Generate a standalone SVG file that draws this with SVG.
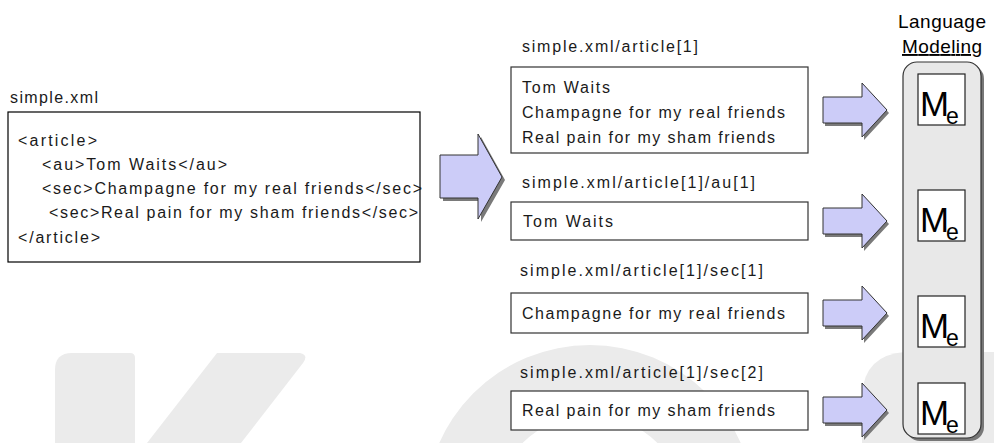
<svg xmlns="http://www.w3.org/2000/svg" width="994" height="443" viewBox="0 0 994 443">
<style>
.t{font-family:"Liberation Sans",Arial,sans-serif;font-size:16px;fill:#1a1a1a}
.box{fill:#ffffff;stroke:#333333;stroke-width:1.2}
.arr{fill:#ccccf8;stroke:#333333;stroke-width:1}
.sh{fill:#7a7a7a}
.wm{fill:#ebebeb}
.m{font-family:"Liberation Sans",Arial,sans-serif;font-size:35px;fill:#000}
.e{font-family:"Liberation Sans",Arial,sans-serif;font-size:23px;fill:#000}
.lm{font-family:"Liberation Sans",Arial,sans-serif;font-size:19px;fill:#000}
</style>
<defs>
<path id="sa" d="M823,-13 L862,-13 L862,-27 L887,0 L862,27 L862,13 L823,13 Z"/>
<g id="me">
<rect x="918" y="0" width="47" height="51" fill="#fff" stroke="#222" stroke-width="1.2"/>
<text class="m" x="920" y="42" textLength="29" lengthAdjust="spacingAndGlyphs">M</text>
<text class="e" x="946" y="50">e</text>
</g>
</defs>
<rect width="994" height="443" fill="#ffffff"/>
<g id="watermark">
<path class="wm" d="M55,443 L55,370 Q55,353 72,353 L130,353 Q135,353 135,358 L135,443 Z"/>
<path class="wm" d="M217,353 L300,353 Q309,355 303,363 L241,443 L147,443 Z"/>
<path class="wm" fill-rule="evenodd" d="M425,510 A165,165 0 1 1 755,510 A165,165 0 1 1 425,510 Z M495,510 A95,95 0 1 0 685,510 A95,95 0 1 0 495,510 Z"/>
<path class="wm" d="M862,443 L862,395 Q864,355 905,352 L994,352 L994,443 Z"/>
</g>
<g id="connectors">
<path class="sh" d="M443,158 L481,158 L481,137 L505,180 L481,222 L481,201 L443,201 Z"/>
<path class="arr" d="M440,155 L478,155 L478,134 L502,177 L478,219 L478,198 L440,198 Z"/>
<use href="#sa" class="sh" transform="translate(2,113)"/>
<use href="#sa" class="arr" transform="translate(0,110)"/>
<use href="#sa" class="sh" transform="translate(2,224)"/>
<use href="#sa" class="arr" transform="translate(0,221)"/>
<use href="#sa" class="sh" transform="translate(2,316)"/>
<use href="#sa" class="arr" transform="translate(0,313)"/>
<use href="#sa" class="sh" transform="translate(2,413)"/>
<use href="#sa" class="arr" transform="translate(0,410)"/>
</g>
<g id="source">
<text class="t" x="10" y="103" textLength="88">simple.xml</text>
<rect x="8" y="112" width="412" height="150" fill="#fff" stroke="#000" stroke-width="1.2"/>
<text class="t" x="18" y="146" textLength="79">&lt;article&gt;</text>
<text class="t" x="42" y="170" textLength="185">&lt;au&gt;Tom Waits&lt;/au&gt;</text>
<text class="t" x="42" y="194" textLength="380">&lt;sec&gt;Champagne for my real friends&lt;/sec&gt;</text>
<text class="t" x="49" y="218" textLength="369">&lt;sec&gt;Real pain for my sham friends&lt;/sec&gt;</text>
<text class="t" x="18" y="243" textLength="82">&lt;/article&gt;</text>
</g>
<g id="article1">
<text class="t" x="522" y="52" textLength="176">simple.xml/article[1]</text>
<rect class="box" x="511" y="67" width="297" height="86"/>
<text class="t" x="522" y="93" textLength="88">Tom Waits</text>
<text class="t" x="522" y="118" textLength="263">Champagne for my real friends</text>
<text class="t" x="522" y="143" textLength="253">Real pain for my sham friends</text>
</g>
<g id="au1">
<text class="t" x="522" y="188" textLength="233">simple.xml/article[1]/au[1]</text>
<rect class="box" x="511" y="202" width="297" height="38"/>
<text class="t" x="523" y="227" textLength="90">Tom Waits</text>
</g>
<g id="sec1">
<text class="t" x="520" y="276" textLength="243">simple.xml/article[1]/sec[1]</text>
<rect class="box" x="511" y="293" width="297" height="40"/>
<text class="t" x="522" y="319" textLength="263">Champagne for my real friends</text>
</g>
<g id="sec2">
<text class="t" x="520" y="378" textLength="243">simple.xml/article[1]/sec[2]</text>
<rect class="box" x="511" y="391" width="297" height="39"/>
<text class="t" x="522" y="416" textLength="253">Real pain for my sham friends</text>
</g>
<g id="language-modeling">
<text class="lm" x="942" y="28" text-anchor="middle" textLength="88">Language</text>
<text class="lm" x="942" y="53" text-anchor="middle" textLength="80" text-decoration="underline">Modeling</text>
<rect x="906" y="65" width="78" height="376" rx="14" fill="#777"/>
<rect x="903" y="62" width="78" height="376" rx="14" fill="#e8e8e8" stroke="#333" stroke-width="1.2"/>
<use href="#me" transform="translate(0,74)"/>
<use href="#me" transform="translate(0,190)"/>
<use href="#me" transform="translate(0,296)"/>
<use href="#me" transform="translate(0,383)"/>
</g>
</svg>
